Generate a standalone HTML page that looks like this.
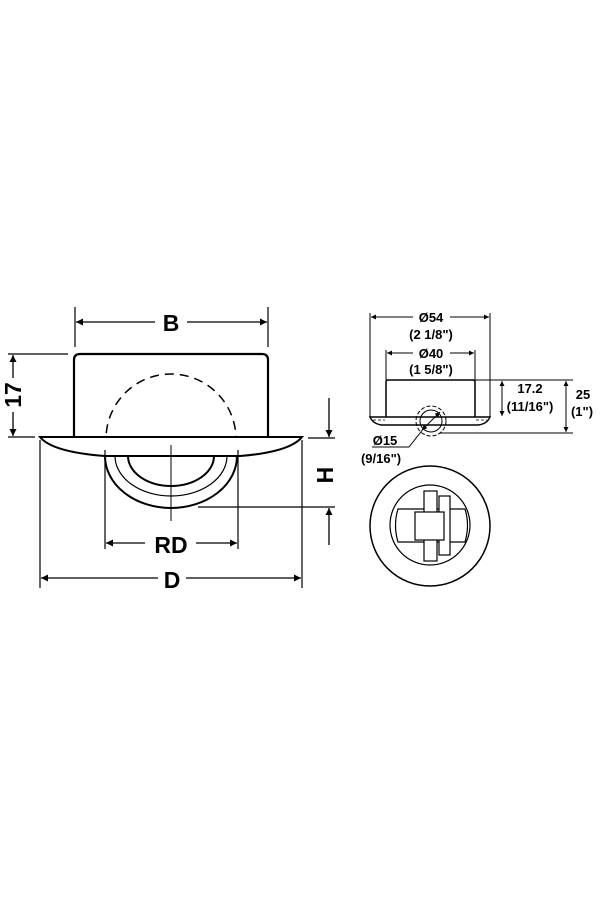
<!DOCTYPE html>
<html><head><meta charset="utf-8"><style>
html,body{margin:0;padding:0;background:#fff;width:600px;height:900px;overflow:hidden}
svg{display:block}
text{font-family:"Liberation Sans",Arial,sans-serif;font-weight:bold;fill:#000}
</style></head><body>
<svg width="600" height="900" viewBox="0 0 600 900" xmlns="http://www.w3.org/2000/svg">
<defs>
<marker id="a" viewBox="0 0 10 10" refX="10" refY="5" markerWidth="15" markerHeight="7" orient="auto-start-reverse" markerUnits="userSpaceOnUse"><path d="M0,0 L10,5 L0,10 z" fill="#000"/></marker>
<marker id="s" viewBox="0 0 10 10" refX="10" refY="5" markerWidth="10" markerHeight="5" orient="auto-start-reverse" markerUnits="userSpaceOnUse"><path d="M0,0 L10,5 L0,10 z" fill="#000"/></marker>
<clipPath id="top"><rect x="0" y="0" width="600" height="437"/></clipPath>
</defs>
<g fill="none" stroke="#000">
<!-- left view -->
<path d="M74,437 V360 Q74,354 80,354 H262 Q268,354 268,360 V437" stroke-width="2.2"/>
<path d="M40,437 H302 Q290,452 240,456 H105 Q52,452 40,437 Z" stroke-width="2"/>
<circle cx="171" cy="439" r="65" stroke-width="1.5" stroke-dasharray="9,6" clip-path="url(#top)"/>
<path d="M105,456 A66,52 0 0 0 237,456" stroke-width="2"/>
<path d="M115,456 A56,40 0 0 0 227,456" stroke-width="1.2"/>
<path d="M128,456 A43,30 0 0 0 214,456" stroke-width="2"/>
<line x1="171" y1="445" x2="171" y2="521" stroke-width="1"/>
<!-- B -->
<line x1="75" y1="307" x2="75" y2="347" stroke-width="1.2"/>
<line x1="268" y1="307" x2="268" y2="347" stroke-width="1.2"/>
<line x1="76" y1="322" x2="155" y2="322" stroke-width="1.3" marker-start="url(#a)"/>
<line x1="187" y1="322" x2="267" y2="322" stroke-width="1.3" marker-end="url(#a)"/>
<!-- 17 -->
<line x1="8" y1="354" x2="68" y2="354" stroke-width="1.2"/>
<line x1="8" y1="437" x2="35" y2="437" stroke-width="1.2"/>
<line x1="13" y1="355" x2="13" y2="378" stroke-width="1.3" marker-start="url(#a)"/>
<line x1="13" y1="412" x2="13" y2="436" stroke-width="1.3" marker-end="url(#a)"/>
<!-- H -->
<line x1="308" y1="438" x2="335" y2="438" stroke-width="1.2"/>
<line x1="198" y1="507" x2="335" y2="507" stroke-width="1.2"/>
<line x1="329" y1="398" x2="329" y2="437" stroke-width="1.3" marker-end="url(#a)"/>
<line x1="329" y1="545" x2="329" y2="508" stroke-width="1.3" marker-end="url(#a)"/>
<!-- RD -->
<line x1="105" y1="450" x2="105" y2="549" stroke-width="1.2"/>
<line x1="238" y1="450" x2="238" y2="549" stroke-width="1.2"/>
<line x1="106" y1="543" x2="145" y2="543" stroke-width="1.3" marker-start="url(#a)"/>
<line x1="196" y1="543" x2="237" y2="543" stroke-width="1.3" marker-end="url(#a)"/>
<!-- D -->
<line x1="40" y1="440" x2="40" y2="588" stroke-width="1.2"/>
<line x1="302" y1="440" x2="302" y2="588" stroke-width="1.2"/>
<line x1="41" y1="578" x2="158" y2="578" stroke-width="1.3" marker-start="url(#a)"/>
<line x1="186" y1="578" x2="301" y2="578" stroke-width="1.3" marker-end="url(#a)"/>

<!-- right side view -->
<line x1="370" y1="313" x2="370" y2="418" stroke-width="1"/>
<line x1="490" y1="313" x2="490" y2="418" stroke-width="1"/>
<line x1="371" y1="317" x2="413" y2="317" stroke-width="1" marker-start="url(#s)"/>
<line x1="450" y1="317" x2="489" y2="317" stroke-width="1" marker-end="url(#s)"/>
<line x1="386" y1="350" x2="386" y2="380" stroke-width="1"/>
<line x1="475" y1="350" x2="475" y2="380" stroke-width="1"/>
<line x1="387" y1="353" x2="413" y2="353" stroke-width="1" marker-start="url(#s)"/>
<line x1="450" y1="353" x2="474" y2="353" stroke-width="1" marker-end="url(#s)"/>
<path d="M386,417 V382 Q386,380 388,380 H473 Q475,380 475,382 V417" stroke-width="1.5"/>
<path d="M370,417 H490 Q487,424 478,425 H382 Q373,424 370,417 Z" stroke-width="1.5"/>
<path d="M373,420 H385 M476,420 H487" stroke-width="0.8" stroke-dasharray="3,2"/>
<circle cx="431" cy="421" r="11" stroke-width="1"/>
<circle cx="431" cy="421" r="15" stroke-width="1" stroke-dasharray="4,2"/>
<line x1="422" y1="430" x2="440" y2="412" stroke-width="1" marker-start="url(#s)" marker-end="url(#s)"/>
<polyline points="372,447 409,447 424,428" stroke-width="1"/>
<line x1="475" y1="380" x2="573" y2="380" stroke-width="1"/>
<line x1="440" y1="433" x2="573" y2="433" stroke-width="1"/>
<line x1="502" y1="381" x2="502" y2="416" stroke-width="1" marker-start="url(#s)" marker-end="url(#s)"/>
<line x1="566" y1="381" x2="566" y2="432" stroke-width="1" marker-start="url(#s)" marker-end="url(#s)"/>

<!-- bottom view -->
<circle cx="430" cy="526" r="60" stroke-width="1.5"/>
<circle cx="430" cy="525" r="40" stroke-width="1.2"/>
<path d="M398,509 H465 Q470,525 465,542 H398 Q393,525 398,509 Z" stroke-width="1.2"/>
<rect x="424" y="491" width="13" height="70" fill="#fff" stroke-width="1.2"/>
<rect x="439" y="496" width="11" height="59" fill="#fff" stroke-width="1.2"/>
<rect x="415" y="512" width="29" height="28" fill="#fff" stroke-width="1.2"/>
</g>
<g text-anchor="middle">
<text x="171" y="331" font-size="23">B</text>
<text x="171" y="553" font-size="23">RD</text>
<text x="172" y="588" font-size="23">D</text>
<text transform="translate(21,395) rotate(-90)" font-size="23">17</text>
<text transform="translate(333,475) rotate(-90)" font-size="23">H</text>
<text x="431" y="322" font-size="13">Ø54</text>
<text x="431" y="339" font-size="13">(2 1/8")</text>
<text x="431" y="358" font-size="13">Ø40</text>
<text x="431" y="374" font-size="13">(1 5/8")</text>
<text x="530" y="393" font-size="13">17.2</text>
<text x="530" y="411" font-size="13">(11/16")</text>
<text x="583" y="399" font-size="13">25</text>
<text x="582" y="416" font-size="13">(1")</text>
<text x="385" y="445" font-size="13">Ø15</text>
<text x="381" y="463" font-size="13">(9/16")</text>
</g>
</svg>
</body></html>
